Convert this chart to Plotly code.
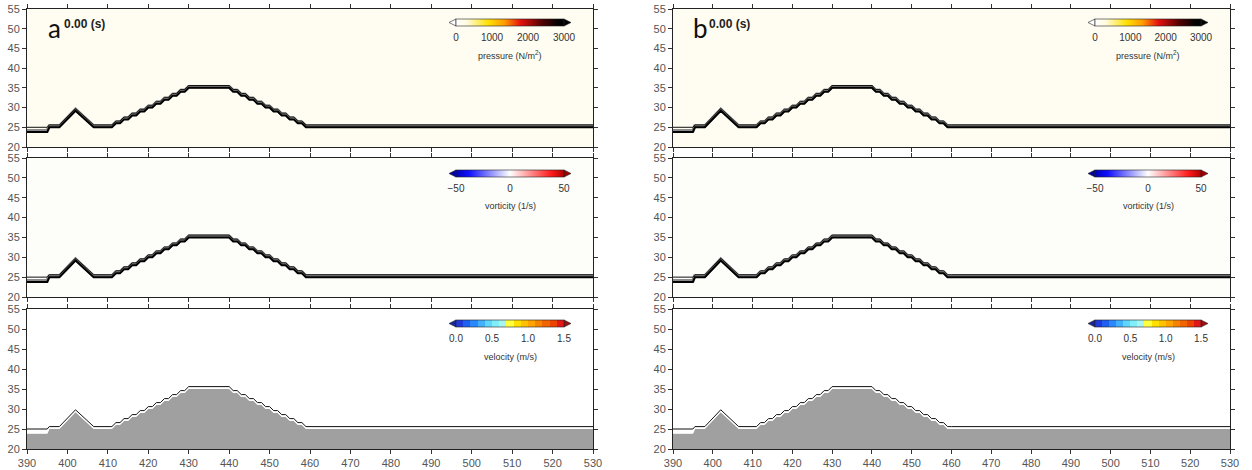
import plotly.graph_objects as go
from plotly.subplots import make_subplots

# x positions (m) and bed level (m) of the channel profile
ground_x = [390, 395, 395.5, 398, 402, 406.5, 411,
            412, 413, 414, 415, 416, 417, 418, 419, 420, 421,
            422, 423, 424, 425, 426, 427, 428, 429, 430,
            440, 441, 442, 443, 444, 445, 446, 447, 448, 449, 450,
            451, 452, 453, 454, 455, 456, 457, 458, 459, 460, 530]
ground_y = [23.8, 23.8, 25, 25, 29.2, 25, 25,
            26, 26, 27, 27, 28, 28, 29, 29, 30, 30,
            31, 31, 32, 32, 33, 33, 34, 34, 35,
            35, 34, 34, 33, 33, 32, 32, 31, 31, 30, 30,
            29, 29, 28, 28, 27, 27, 26, 26, 25, 25, 25]
inlet_x = [390, 395]
inlet_y = [25, 25]

panel_letters = ['a', 'b']
time_label = '0.00 (s)'
y_ticks = [20, 25, 30, 35, 40, 45, 50, 55]
x_ticks = [390, 400, 410, 420, 430, 440, 450, 460, 470, 480, 490, 500, 510, 520, 530]

pressure_ticks = [0, 1000, 2000, 3000]
vorticity_ticks = [-50, 0, 50]
velocity_ticks = [0.0, 0.5, 1.0, 1.5]
velocity_labels = ['0.0', '0.5', '1.0', '1.5']

# wall drawn as a double line, thickness in m
WALL = 0.6
surface_x = inlet_x + ground_x[2:]
surface_y = inlet_y + [y + WALL for y in ground_y[2:]]
band_y = [y + WALL / 2 for y in ground_y]

pressure_scale = [[0, '#ffffff'], [0.1, '#fffbe0'], [0.3, '#ffe000'], [0.45, '#ff9a00'],
                  [0.6, '#e41010'], [0.8, '#500000'], [0.95, '#000000'], [1, '#000000']]
vorticity_scale = [[0, '#0000b4'], [0.12, '#1010ff'], [0.5, '#ffffff'], [0.88, '#ff1c1c'], [1, '#b40000']]
velocity_bands = ['#1f3ad8', '#2060f0', '#2a88ff', '#40b0ff', '#5ed6ff', '#80eef8', '#a8f4f0',
                  '#ffff40', '#ffe000', '#ffc200', '#ffa400', '#f58400', '#f26400', '#ee4200', '#e01818']
velocity_scale = []
for i, c in enumerate(velocity_bands):
    velocity_scale.append([i / len(velocity_bands), c])
    velocity_scale.append([(i + 1) / len(velocity_bands), c])

fig = make_subplots(rows=3, cols=2)

W, H = 1252, 470


def px(x):
    return x / W


def py(y):
    return 1 - y / H


x_domains = [[px(27), px(593)], [px(673), px(1230)]]
y_domains = [[py(147), py(9)], [py(297), py(158)], [py(449), py(309)]]
panel_bg = ['#fffdf1', '#fdfdfa', '#ffffff']

# colorbar placement (pixels) per column / row
cb_center = [510, 1148]
cb_len = [108, 106]
cb_top = [19, 170, 320]
cb_title_y = [55, 206, 357]
CB_THICK = 7
bars = [
    dict(scale=pressure_scale, cmin=0, cmax=3000, ticks=pressure_ticks, labels=[str(t) for t in pressure_ticks],
         title='pressure (N/m<sup>2</sup>)', left='#ffffff', right='#000000'),
    dict(scale=vorticity_scale, cmin=-50, cmax=50, ticks=vorticity_ticks, labels=['\u221250', '0', '50'],
         title='vorticity (1/s)', left='#0000a0', right='#a00000'),
    dict(scale=velocity_scale, cmin=0, cmax=1.5, ticks=velocity_ticks, labels=velocity_labels,
         title='velocity (m/s)', left='#18289c', right='#a01010'),
]

shapes = []
annotations = []
for col in range(2):
    for row in range(3):
        r, c = row + 1, col + 1
        fig.update_xaxes(domain=x_domains[col], row=r, col=c)
        fig.update_yaxes(domain=y_domains[row], row=r, col=c)
        idx = row * 2 + col + 1
        xref = 'x domain' if idx == 1 else f'x{idx} domain'
        yref = 'y domain' if idx == 1 else f'y{idx} domain'
        shapes.append(dict(type='rect', xref=xref, yref=yref, x0=0, x1=1, y0=0, y1=1,
                           fillcolor=panel_bg[row], line_width=0, layer='below'))

        if row < 2:
            fig.add_trace(go.Scatter(x=ground_x, y=band_y, mode='lines',
                                     line=dict(color='#8a8a8a', width=3.5)), row=r, col=c)
            fig.add_trace(go.Scatter(x=surface_x, y=surface_y, mode='lines',
                                     line=dict(color='#111111', width=1)), row=r, col=c)
            fig.add_trace(go.Scatter(x=ground_x, y=ground_y, mode='lines',
                                     line=dict(color='#000000', width=2)), row=r, col=c)
        else:
            fig.add_trace(go.Scatter(x=surface_x, y=surface_y, mode='lines', fill='tozeroy',
                                     fillcolor='#ffffff', line=dict(width=0)), row=r, col=c)
            fig.add_trace(go.Scatter(x=ground_x, y=ground_y, mode='lines', fill='tozeroy',
                                     fillcolor='#a0a0a0', line=dict(width=0)), row=r, col=c)
            fig.add_trace(go.Scatter(x=ground_x, y=band_y, mode='lines',
                                     line=dict(color='#ffffff', width=1.2)), row=r, col=c)
            fig.add_trace(go.Scatter(x=surface_x, y=surface_y, mode='lines',
                                     line=dict(color='#111111', width=1)), row=r, col=c)

        # colorbar
        b = bars[row]
        fig.add_trace(go.Scatter(x=[None], y=[None], mode='markers', hoverinfo='skip',
                                 marker=dict(color=[b['cmin']], cmin=b['cmin'], cmax=b['cmax'],
                                             colorscale=b['scale'], showscale=True,
                                             colorbar=dict(orientation='h', x=px(cb_center[col]), xanchor='center',
                                                           y=py(cb_top[row]), yanchor='top',
                                                           len=cb_len[col], lenmode='pixels',
                                                           thickness=CB_THICK, xpad=0, ypad=0,
                                                           outlinewidth=0.6, outlinecolor='#222222',
                                                           tickvals=b['ticks'], ticktext=b['labels'],
                                                           ticks='outside', ticklen=3, tickcolor='rgba(0,0,0,0)',
                                                           tickfont=dict(size=10, color='#333333')))),
                      row=r, col=c)
        annotations.append(dict(text=b['title'], xref='paper', yref='paper',
                                x=px(cb_center[col]), y=py(cb_title_y[row]),
                                xanchor='center', yanchor='middle', showarrow=False,
                                font=dict(size=9, color='#333333')))
        x0 = px(cb_center[col] - cb_len[col] / 2)
        x1 = px(cb_center[col] + cb_len[col] / 2)
        tip = 7 / W
        yt = py(cb_top[row])
        yb = py(cb_top[row] + CB_THICK)
        ym = (yt + yb) / 2
        shapes.append(dict(type='path', xref='paper', yref='paper',
                           path=f'M {x0} {yt} L {x0 - tip} {ym} L {x0} {yb} Z',
                           fillcolor=b['left'], line=dict(color='#222222', width=0.6)))
        shapes.append(dict(type='path', xref='paper', yref='paper',
                           path=f'M {x1} {yt} L {x1 + tip} {ym} L {x1} {yb} Z',
                           fillcolor=b['right'], line=dict(color='#222222', width=0.6)))

    # panel letter with time stamp
    xref = 'x domain' if col == 0 else 'x2 domain'
    yref = 'y domain' if col == 0 else 'y2 domain'
    annotations.append(dict(text=panel_letters[col], xref=xref, yref=yref, x=0.033, y=0.862,
                            xanchor='left', yanchor='middle', showarrow=False,
                            font=dict(family='Lato', size=26, color='#111111')))
    annotations.append(dict(text='<b>' + time_label + '</b>', xref=xref, yref=yref, x=0.061, y=0.89,
                            xanchor='left', yanchor='middle', showarrow=False,
                            font=dict(family='Liberation Sans', size=12, color='#222222')))

fig.update_xaxes(range=[390, 530], tickvals=x_ticks, ticks='outside', ticklen=4, tickcolor='#333333',
                 showline=True, linecolor='#222222', linewidth=1, mirror='ticks',
                 showgrid=False, zeroline=False, ticklabeloverflow='allow',
                 tickfont=dict(size=11, color='#555555'))
fig.update_xaxes(showticklabels=False, row=1)
fig.update_xaxes(showticklabels=False, row=2)
fig.update_yaxes(range=[20, 55], tickvals=y_ticks, ticks='outside', ticklen=4, tickcolor='#333333',
                 showline=True, linecolor='#222222', linewidth=1, mirror='ticks',
                 showgrid=False, zeroline=False, ticklabeloverflow='allow',
                 tickfont=dict(size=11, color='#555555'))

fig.update_layout(width=W, height=H, margin=dict(l=0, r=0, t=0, b=0, autoexpand=False),
                  paper_bgcolor='white', plot_bgcolor='white', showlegend=False,
                  font=dict(family='Liberation Sans'),
                  shapes=shapes, annotations=annotations)
# drop the browser's default page margin so the figure fills the window
fig.write_html("out.html", config={'displayModeBar': False},
               post_script="document.body.style.margin = '0';")
